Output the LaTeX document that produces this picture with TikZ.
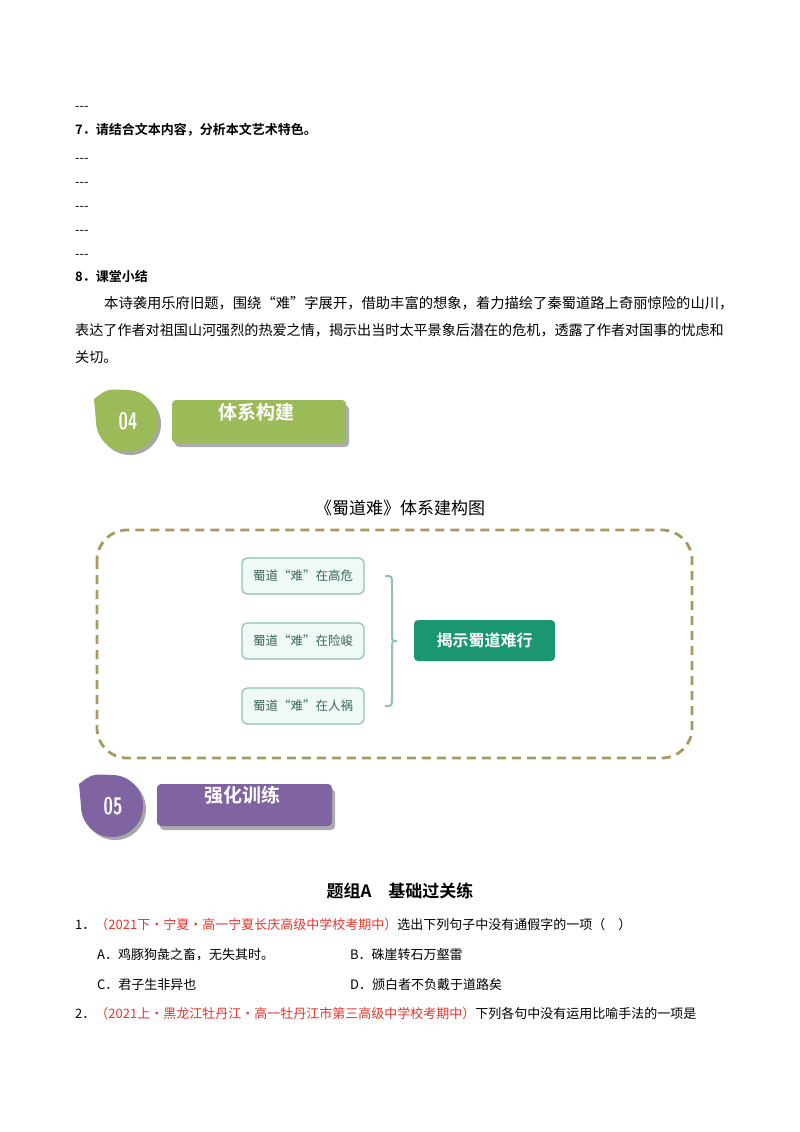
\documentclass[tikz,border=0pt]{standalone}
\usepackage{fontspec}
\setmainfont{Liberation Serif}
\newfontfamily\cjk{Noto Sans CJK SC}
\newfontfamily\cjkb{Noto Sans CJK SC}[BoldFont={* Bold}]
\definecolor{leafg}{HTML}{9BBB59}
\definecolor{leafp}{HTML}{8064A2}
\definecolor{dashc}{HTML}{A89A5E}
\definecolor{boxb}{HTML}{8CC4AE}
\definecolor{boxf}{HTML}{EFF9F5}
\definecolor{boxt}{HTML}{3C6656}
\definecolor{bigg}{HTML}{1A9670}
\definecolor{qred}{HTML}{E8352C}
\tikzset{
  txt/.style={anchor=west,inner sep=0pt,font=\cjk\fontsize{13}{15}\selectfont},
  small/.style={draw=boxb,fill=boxf,rounded corners=5pt,line width=1.2pt,minimum width=122pt,minimum height=36pt,text=boxt,font=\cjk\fontsize{12.5}{14}\selectfont},
}
\newcommand{\leafbadge}[4]{% cx cy color label
  \fill[gray!70] (#1+3,#2+3) circle (31);
  \fill[#3] (#1,#2) circle (31);
  \fill[#3] (#1-31,#2) -- (#1-33,#2-22) .. controls (#1-20,#2-32) .. (#1,#2-31) -- (#1,#2) -- cycle;
  \node[font=\sffamily\bfseries\fontsize{20}{22}\selectfont,text=white,xscale=0.85,yscale=1.2] at (#1+1,#2) {#4};
}
\begin{document}
\begin{tikzpicture}[x=1pt,y=-1pt]
\useasboundingbox (0,0) rectangle (800,1132);
\fill[white] (0,0) rectangle (800,1132);
\node[txt] (d0) at (75,108) {---};
\node[txt,font=\cjkb\bfseries\fontsize{13}{15}\selectfont] (q7) at (75,130) {7．请结合文本内容，分析本文艺术特色。};
\foreach \yy/\nn in {160/a,184/b,208/c,232/d,256/e} \node[txt] (d\nn) at (75,\yy) {---};
\node[txt,font=\cjkb\bfseries\fontsize{13}{15}\selectfont] (q8) at (75,277) {8．课堂小结};
\node[txt,font=\cjk\fontsize{14.3}{16}\selectfont] (p1) at (104,303) {本诗袭用乐府旧题，围绕“难”字展开，借助丰富的想象，着力描绘了秦蜀道路上奇丽惊险的山川，};
\node[txt,font=\cjk\fontsize{14.1}{16}\selectfont] (p2) at (75,330) {表达了作者对祖国山河强烈的热爱之情，揭示出当时太平景象后潜在的危机，透露了作者对国事的忧虑和};
\node[txt,font=\cjk\fontsize{14.1}{16}\selectfont] (p3) at (75,357) {关切。};
% badge 04
\fill[gray!65,rounded corners=4pt] (175,405) rectangle (349,447);
\fill[leafg,rounded corners=4pt] (172,400) rectangle (346,443);
\node[font=\cjkb\bfseries\fontsize{19}{21}\selectfont,text=white] (t4) at (256,412) {体系构建};
\leafbadge{127}{421}{leafg}{04}
% title
\node[font=\cjk\fontsize{17}{20}\selectfont] (title) at (400,508) {《蜀道难》体系建构图};
\draw[dashc,line width=2.8pt,dash pattern=on 9pt off 6pt,rounded corners=30pt] (97,530) rectangle (692,758);
\node[small] (s1) at (303,576) {蜀道“难”在高危};
\node[small] (s2) at (303,641) {蜀道“难”在险峻};
\node[small] (s3) at (303,706) {蜀道“难”在人祸};
\node[fill=bigg,rounded corners=4pt,minimum width=141pt,minimum height=41pt,text=white,font=\cjkb\bfseries\fontsize{16}{18}\selectfont] (big) at (484.5,640.5) {揭示蜀道难行};
\coordinate (bt) at (385,576);
\coordinate (bb) at (385,706);
\coordinate (bm) at (397,641);
\draw[boxb,line width=2pt] (bt) .. controls (392,576) .. (392,584) -- (392,633) .. controls (392,641) .. (bm) .. controls (392,641) .. (392,649) -- (392,698) .. controls (392,706) .. (bb);
% badge 05
\fill[gray!65,rounded corners=4pt] (160,789) rectangle (335,830);
\fill[leafp,rounded corners=4pt] (157,784) rectangle (332,826);
\node[font=\cjkb\bfseries\fontsize{19}{21}\selectfont,text=white] (t5) at (242,795) {强化训练};
\leafbadge{112}{806}{leafp}{05}
% section
\node[font=\cjkb\bfseries\fontsize{17}{20}\selectfont] (sec) at (400,891) {题组A\quad 基础过关练};
\node[txt] (q1) at (75,925) {1．\textcolor{qred}{（2021下·宁夏·高一宁夏长庆高级中学校考期中）}选出下列句子中没有通假字的一项（\quad ）};
\node[txt] (oa) at (97,955) {A．鸡豚狗彘之畜，无失其时。};
\node[txt] (ob) at (350,955) {B．硃崖转石万壑雷};
\node[txt] (oc) at (97,985) {C．君子生非异也};
\node[txt] (od) at (350,985) {D．颁白者不负戴于道路矣};
\node[txt] (q2) at (75,1014) {2．\textcolor{qred}{（2021上·黑龙江牡丹江·高一牡丹江市第三高级中学校考期中）}下列各句中没有运用比喻手法的一项是};
\end{tikzpicture}
\end{document}
